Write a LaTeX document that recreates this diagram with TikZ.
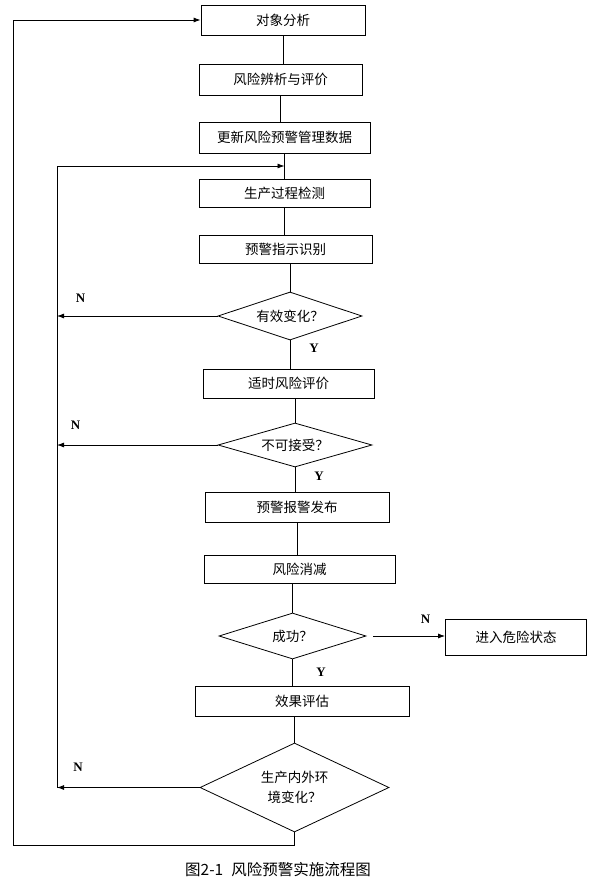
\documentclass[tikz,border=0pt]{standalone}
\usepackage{fontspec}
\setmainfont{Noto Sans CJK SC}
\newfontfamily\ynfont{Liberation Serif}
\usetikzlibrary{shapes.geometric,arrows.meta}

\begin{document}
\begin{tikzpicture}
[x=1pt, y=-1pt, every node/.style={inner sep=0pt},
 box/.style={rectangle, draw=black, line width=0.8pt, font=\fontsize{13.5}{16}\selectfont},
 decision/.style={diamond, aspect=3, draw=black, line width=0.8pt, align=center, font=\fontsize{13.5}{20}\selectfont},
 yn/.style={font=\ynfont\bfseries\fontsize{13}{15}\selectfont},
 link/.style={line width=0.8pt, color=black},
 arrow/.style={link, -{Latex[length=7pt, width=5pt]}}]
\useasboundingbox (0,0) rectangle (593,893);
% boxes and decisions
\node (analyse) [box, minimum width=164pt, minimum height=30pt] at (283, 20) {对象分析};
\node (identify) [box, minimum width=163pt, minimum height=31pt] at (280.5, 79.5) {风险辨析与评价};
\node (update) [box, minimum width=171pt, minimum height=31pt] at (284.5, 137.5) {更新风险预警管理数据};
\node (monitor) [box, minimum width=171pt, minimum height=28pt] at (284.5, 193) {生产过程检测};
\node (indicate) [box, minimum width=173pt, minimum height=28pt] at (285.5, 249) {预警指示识别};
\node (change) [decision, minimum width=144pt, minimum height=48pt] at (290, 316) {有效变化？};
\node (assess) [box, minimum width=171pt, minimum height=29pt] at (288.5, 383.5) {适时风险评价};
\node (accept) [decision, minimum width=154pt, minimum height=44pt] at (295, 445) {不可接受？};
\node (alarm) [box, minimum width=184pt, minimum height=30pt] at (297, 507) {预警报警发布};
\node (reduce) [box, minimum width=191pt, minimum height=28pt] at (299.5, 569) {风险消减};
\node (success) [decision, minimum width=147pt, minimum height=46pt] at (292.5, 636) {成功？};
\node (danger) [box, minimum width=141pt, minimum height=36pt] at (516, 637) {进入危险状态};
\node (effect) [box, minimum width=214pt, minimum height=30pt] at (302, 701) {效果评估};
\node (env) [decision, minimum width=189pt, minimum height=89pt] at (294.5, 787.5) {生产内外环\\境变化？};
\node (caption) [font=\fontsize{15.5}{18}\selectfont] at (278, 870) {图2-1\hspace{8pt}风险预警实施流程图};
% Y / N labels
\node (n1) [yn] at (80.5, 298) {N};
\node (y1) [yn] at (314, 348) {Y};
\node (n2) [yn] at (75.5, 425) {N};
\node (y2) [yn] at (319, 476) {Y};
\node (n3) [yn] at (425.5, 619.5) {N};
\node (y3) [yn] at (321, 672) {Y};
\node (n4) [yn] at (78, 767) {N};
% main line
\draw [link] (analyse.south) -- (analyse.south |- identify.north);
\draw [link] (identify.south) -- (identify.south |- update.north);
\draw [link] (update.south) -- (update.south |- monitor.north);
\draw [link] (monitor.south) -- (monitor.south |- indicate.north);
\draw [link] (change.north |- indicate.south) -- (change.north);
\draw [link] (change.south) -- (change.south |- assess.north);
\draw [link] (accept.north |- assess.south) -- (accept.north);
\draw [link] (accept.south) -- (accept.south |- alarm.north);
\draw [link] (alarm.south) -- (alarm.south |- reduce.north);
\draw [link] (success.north |- reduce.south) -- (success.north);
\draw [link] (success.south) -- (success.south |- effect.north);
\draw [link] (env.north |- effect.south) -- (env.north);
\draw [arrow] ([xshift=7pt]success.east) -- (success.east -| danger.west);
% inner loop
\coordinate (innertop) at (57, 166);
\draw [arrow] (change.west) -- (change.west -| innertop);
\draw [arrow] (accept.west) -- (accept.west -| innertop);
\draw [arrow] (env.west) -- (env.west -| innertop);
\draw [link] (env.west -| innertop) -- (innertop);
\draw [arrow] (innertop) -- (innertop -| update.south);
% outer loop
\coordinate (outerbot) at (13, 845);
\draw [arrow] (env.south) -- (env.south |- outerbot) -- (outerbot) -- (outerbot |- analyse.west) -- (analyse.west);
\end{tikzpicture}
\end{document}
